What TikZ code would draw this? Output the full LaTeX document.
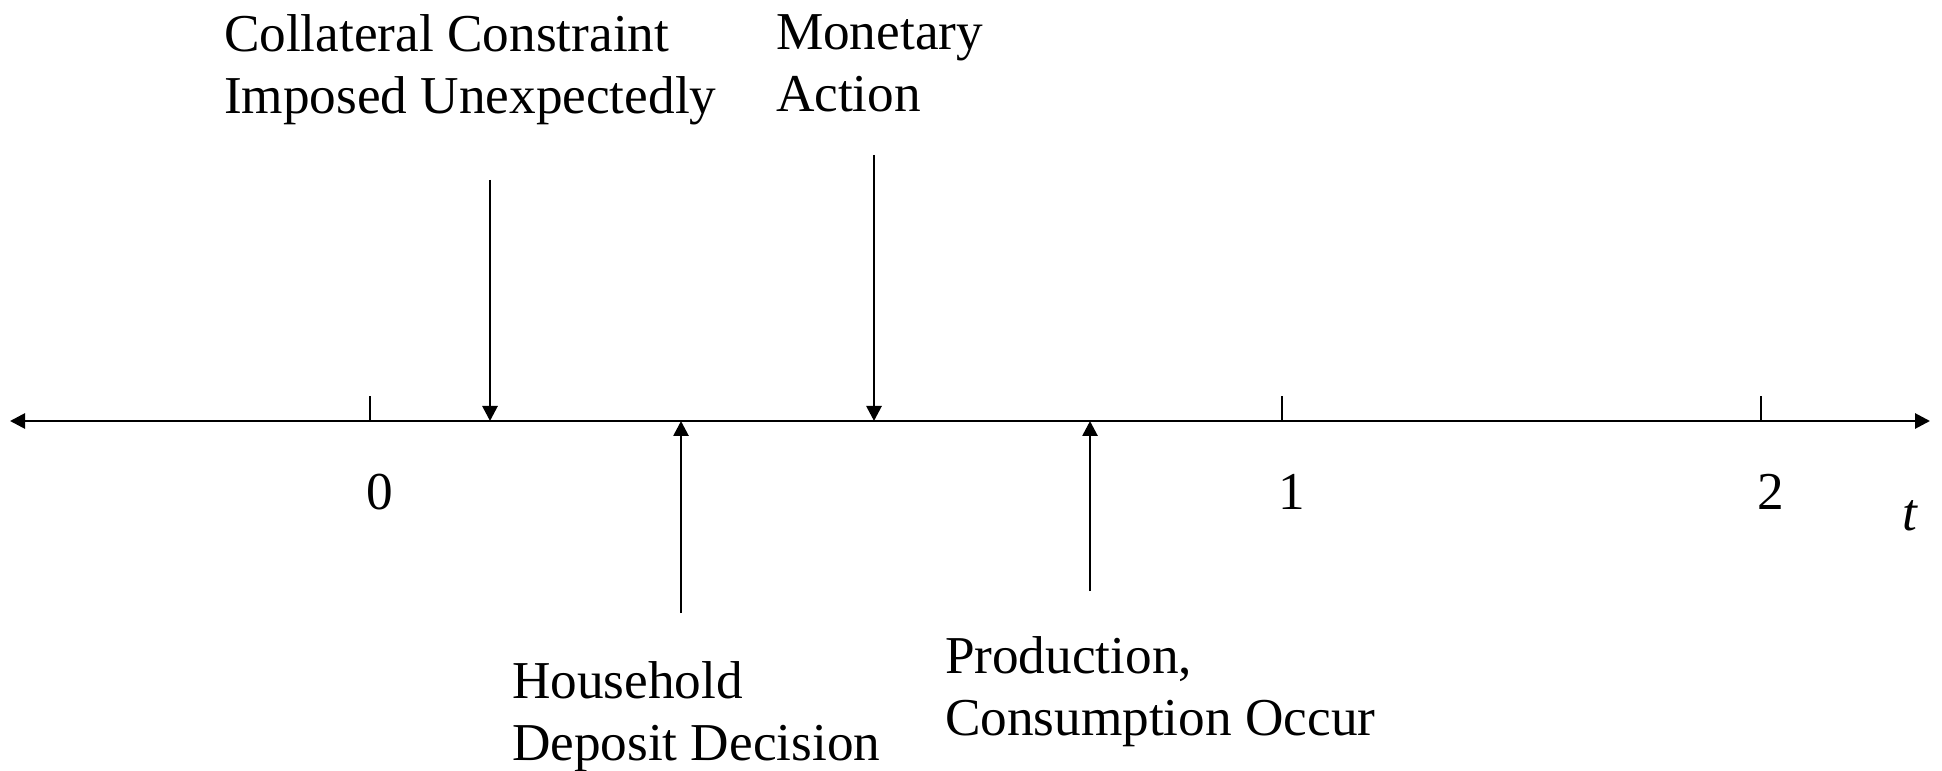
\documentclass[tikz,border=0pt]{standalone}
\usepackage{fontspec}
\setmainfont{Liberation Serif}
\usetikzlibrary{arrows.meta,positioning}
\tikzstyle{event} = [anchor=north west, align=left, inner sep=0pt, font=\fontsize{10.65}{12.4}\selectfont]
\tikzstyle{ticklabel} = [inner sep=0pt, font=\fontsize{10.65}{12.4}\selectfont]
\tikzstyle{tickmark} = [draw, line width=0.55pt]
\tikzstyle{tedge} = [draw, line width=0.55pt, -{Triangle[length=3pt,width=3pt]}]

\begin{document}
\begin{tikzpicture}[x=0.2pt, y=-0.2pt]
\useasboundingbox (0,0) rectangle (1942,771);

% time axis =============================
\coordinate (tleft) at (10,421);
\coordinate (tright) at (1930,421);
\path[tedge, {Triangle[length=3pt,width=3pt]}-{Triangle[length=3pt,width=3pt]}] (tleft) -- (tright);

\foreach \x/\n in {370/0, 1282/1, 1761/2} {
  \coordinate (tick\n) at (\x,421);
  \path[tickmark] (tick\n) -- ++(0,-25);
  \node[ticklabel] (lab\n) at (\x+10,492) {\n};
}
\node[ticklabel] (tlab) at (1910,516) {\textit{t}};

% events above the axis =============================
\node[event] (collateral) at (223,14) {Collateral Constraint\\Imposed Unexpectedly};
\node[event] (monetary) at (775,14) {Monetary\\Action};

\coordinate (collateral-top) at (490,180);
\coordinate (collateral-axis) at (490,421);
\coordinate (monetary-top) at (874,155);
\coordinate (monetary-axis) at (874,421);

\path[tedge] (collateral-top) -- (collateral-axis);
\path[tedge] (monetary-top) -- (monetary-axis);

% events below the axis =============================
\node[event] (household) at (511,661) {Household\\Deposit Decision};
\node[event] (production) at (944,636) {Production,\\Consumption Occur};

\coordinate (household-bottom) at (681,613);
\coordinate (household-axis) at (681,421);
\coordinate (production-bottom) at (1090,591);
\coordinate (production-axis) at (1090,421);

\path[tedge] (household-bottom) -- (household-axis);
\path[tedge] (production-bottom) -- (production-axis);

\end{tikzpicture}
\end{document}
